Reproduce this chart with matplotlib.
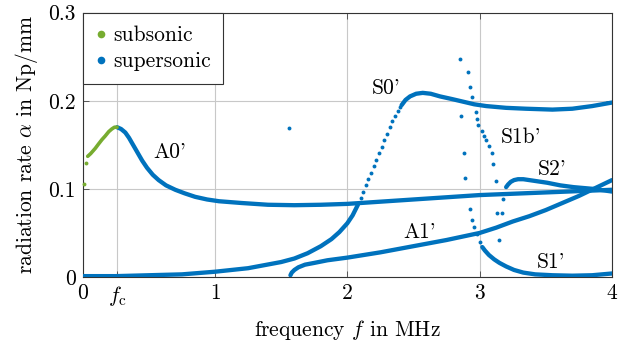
import numpy as np
import matplotlib.pyplot as plt
from matplotlib.lines import Line2D

plt.rcParams['font.family'] = ['cmr10', 'DejaVu Serif']
plt.rcParams['mathtext.fontset'] = 'cm'
plt.rcParams['axes.formatter.use_mathtext'] = True

blue = '#0072bd'
green = '#77ac30'

# A0' mode, subsonic part (green)
a0_sub_dots_f = [0.008, 0.025]
a0_sub_dots_a = [0.105, 0.129]
a0_sub_f = [0.038, 0.06, 0.095, 0.12, 0.146, 0.17, 0.197, 0.22, 0.24, 0.26]
a0_sub_a = [0.137, 0.140, 0.146, 0.151, 0.156, 0.160, 0.165, 0.168, 0.170, 0.170]

# A0' mode, supersonic part
a0_f = [0.26, 0.29, 0.322, 0.35, 0.373, 0.40, 0.423, 0.45, 0.486, 0.53, 0.574, 0.63, 0.70, 0.77, 0.85, 0.94,
        1.03, 1.2, 1.4, 1.6, 1.8, 2.0, 2.5, 3.0, 3.5, 4.0]
a0_a = [0.170, 0.168, 0.164, 0.158, 0.152, 0.145, 0.139, 0.132, 0.124, 0.116, 0.110, 0.104, 0.099, 0.095, 0.091,
        0.088, 0.086, 0.084, 0.082, 0.0815, 0.082, 0.083, 0.088, 0.093, 0.096, 0.099]

# S0' mode: low branch, steep rise (sparse points), upper branch
s0_low_f = [0.0, 0.25, 0.5, 0.75, 1.0, 1.25, 1.5, 1.6, 1.7, 1.8, 1.88, 1.94, 2.0, 2.04, 2.08]
s0_low_a = [0.001, 0.001, 0.002, 0.003, 0.006, 0.010, 0.017, 0.021, 0.027, 0.035, 0.043, 0.051, 0.061, 0.070, 0.082]
s0_rise_f = [2.10, 2.12, 2.14, 2.16, 2.18, 2.20, 2.22, 2.24, 2.26, 2.28, 2.30, 2.32, 2.34, 2.36, 2.38, 2.40]
s0_rise_a = [0.090, 0.097, 0.104, 0.111, 0.118, 0.126, 0.133, 0.141, 0.148, 0.155, 0.162, 0.170, 0.177, 0.183,
             0.188, 0.193]
s0_up_f = [2.41, 2.44, 2.474, 2.52, 2.57, 2.63, 2.70, 2.79, 2.875, 2.96, 3.05, 3.2, 3.35, 3.55, 3.7, 3.85, 4.0]
s0_up_a = [0.195, 0.201, 0.205, 0.208, 0.209, 0.208, 0.205, 0.202, 0.199, 0.196, 0.194, 0.192, 0.191, 0.190,
           0.191, 0.194, 0.198]

# A1' mode
a1_f = [1.57, 1.58, 1.60, 1.63, 1.68, 1.75, 1.85, 2.0, 2.25, 2.5, 2.75, 3.0, 3.125, 3.25, 3.375, 3.5, 3.625,
        3.75, 3.875, 4.0]
a1_a = [0.002, 0.005, 0.008, 0.011, 0.014, 0.016, 0.019, 0.022, 0.028, 0.035, 0.042, 0.050, 0.056, 0.063, 0.069,
        0.076, 0.084, 0.092, 0.101, 0.110]

# S1' mode: sparse start, then dense tail
s1_dots_f = [2.93, 2.94, 2.96, 2.98, 3.00]
s1_dots_a = [0.077, 0.065, 0.057, 0.049, 0.040]
s1_f = [3.02, 3.04, 3.07, 3.11, 3.15, 3.2, 3.26, 3.33, 3.42, 3.55, 3.7, 3.85, 4.0]
s1_a = [0.034, 0.030, 0.025, 0.020, 0.016, 0.012, 0.008, 0.005, 0.003, 0.002, 0.0015, 0.002, 0.004]

# S1b' mode (sparse points) and stray points
s1b_f = [2.85, 2.91, 2.93, 2.94, 2.97, 2.98, 2.99, 3.02, 3.03, 3.05, 3.07, 3.09, 3.10, 3.12, 3.18, 3.13, 3.17, 3.15]
s1b_a = [0.248, 0.233, 0.216, 0.204, 0.187, 0.179, 0.173, 0.166, 0.160, 0.156, 0.149, 0.141, 0.128, 0.109, 0.089,
         0.073, 0.073, 0.042]
stray_f = [1.56, 2.86, 2.88, 2.89]
stray_a = [0.169, 0.183, 0.141, 0.112]

# S2' mode
s2_f = [3.20, 3.215, 3.235, 3.26, 3.29, 3.33, 3.42, 3.51, 3.61, 3.71, 3.86, 4.0]
s2_a = [0.102, 0.105, 0.108, 0.110, 0.111, 0.111, 0.109, 0.107, 0.104, 0.102, 0.100, 0.097]

f_c = 0.262

fig = plt.figure(figsize=(6.38, 3.43), dpi=100)
ax = fig.add_axes([0.1296, 0.1924, 0.8296, 0.7706])

lw = 3.1
ms = 2.8
for xs, ys in [(a0_f, a0_a), (s0_low_f, s0_low_a), (s0_up_f, s0_up_a), (a1_f, a1_a), (s1_f, s1_a), (s2_f, s2_a)]:
    ax.plot(xs, ys, '-', color=blue, lw=lw, solid_capstyle='round', solid_joinstyle='round', zorder=3)
for xs, ys in [(s0_rise_f, s0_rise_a), (s1_dots_f, s1_dots_a), (s1b_f, s1b_a), (stray_f, stray_a)]:
    ax.plot(xs, ys, 'o', color=blue, ms=ms, mew=0, zorder=3)
ax.plot(a0_sub_f, a0_sub_a, '-', color=green, lw=2.6, solid_capstyle='round', solid_joinstyle='round', zorder=4)
ax.plot(a0_sub_dots_f, a0_sub_dots_a, 'o', color=green, ms=ms, mew=0, zorder=4, clip_on=False)

fs = 15.5
ax.text(0.66, 0.142, "A0'", fontsize=fs, ha='center', va='center')
ax.text(2.29, 0.214, "S0'", fontsize=fs, ha='center', va='center')
ax.text(2.55, 0.051, "A1'", fontsize=fs, ha='center', va='center')
ax.text(3.31, 0.159, "S1b'", fontsize=fs, ha='center', va='center')
ax.text(3.55, 0.122, "S2'", fontsize=fs, ha='center', va='center')
ax.text(3.54, 0.017, "S1'", fontsize=fs, ha='center', va='center')

ax.set_xlim(0, 4)
ax.set_ylim(0, 0.3)
ax.set_xticks([0, f_c, 1, 2, 3, 4])
ax.set_xticklabels(['0', r'$f_\mathrm{c}$', '1', '2', '3', '4'])
ax.set_yticks([0, 0.1, 0.2, 0.3])
ax.set_yticklabels(['0', '0.1', '0.2', '0.3'])
ax.tick_params(direction='in', length=4, width=0.6, labelsize=fs, top=True, right=True, color='#444444', pad=5)
ax.grid(True, color='#c8c8c8', lw=0.8)
ax.set_axisbelow(True)
for sp in ax.spines.values():
    sp.set_linewidth(0.8)
    sp.set_color('#333333')

ax.set_xlabel(r'frequency $f$ in MHz', fontsize=fs, labelpad=7)
ax.set_ylabel(r'radiation rate $\alpha$ in Np/mm', fontsize=fs, labelpad=6)

handles = [Line2D([], [], ls='none', marker='o', color=green, ms=5.5, mew=0),
           Line2D([], [], ls='none', marker='o', color=blue, ms=5.5, mew=0)]
leg = ax.legend(handles, ['subsonic', 'supersonic'], loc='upper left', fontsize=fs, fancybox=False,
                framealpha=1, edgecolor='#333333', handlelength=0.5, handletextpad=0.3,
                borderaxespad=0, borderpad=0.6, labelspacing=0.3)
leg.get_frame().set_linewidth(0.8)

fig.savefig('out.png', dpi=100)
